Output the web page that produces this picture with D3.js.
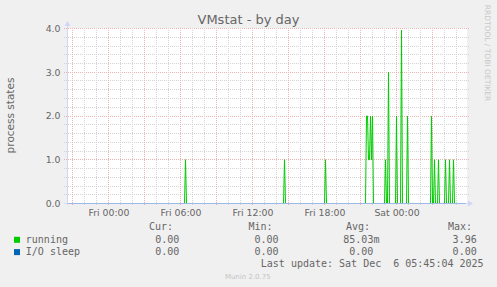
<!DOCTYPE html>
<html><head><meta charset="utf-8">
<script src="https://cdn.jsdelivr.net/npm/d3@7"></script>
<style>body{margin:0;background:#f0f0f0} svg{display:block}</style>
</head><body><svg id="c" width="497" height="287"></svg>
<script>
// ---------- data ----------
const chartTitle = "VMstat - by day";
const yAxisLabel = "process states";
const yTickValues = [0, 1, 2, 3, 4];
const xTickTimes = ["2025-12-05T00:00", "2025-12-05T06:00", "2025-12-05T12:00", "2025-12-05T18:00", "2025-12-06T00:00"];
const xTickLabels = ["Fri 00:00", "Fri 06:00", "Fri 12:00", "Fri 18:00", "Sat 00:00"];
const timeDomain = ["2025-12-04T20:35", "2025-12-06T05:55"];

const runningTimes = [
  "2025-12-04T20:35",
  "2025-12-05T06:20", "2025-12-05T06:25", "2025-12-05T06:30",
  "2025-12-05T14:35", "2025-12-05T14:40", "2025-12-05T14:45",
  "2025-12-05T18:00", "2025-12-05T18:05", "2025-12-05T18:10",
  "2025-12-05T21:25", "2025-12-05T21:30", "2025-12-05T21:35", "2025-12-05T21:40", "2025-12-05T21:45",
  "2025-12-05T21:50", "2025-12-05T21:55", "2025-12-05T22:00", "2025-12-05T22:05",
  "2025-12-05T23:00", "2025-12-05T23:05", "2025-12-05T23:10", "2025-12-05T23:15", "2025-12-05T23:20", "2025-12-05T23:25",
  "2025-12-05T23:55", "2025-12-06T00:00", "2025-12-06T00:05",
  "2025-12-06T00:20", "2025-12-06T00:25", "2025-12-06T00:30",
  "2025-12-06T00:50", "2025-12-06T00:55", "2025-12-06T01:00",
  "2025-12-06T02:50", "2025-12-06T02:55", "2025-12-06T03:00",
  "2025-12-06T03:05", "2025-12-06T03:10", "2025-12-06T03:15",
  "2025-12-06T03:25", "2025-12-06T03:30", "2025-12-06T03:35",
  "2025-12-06T04:00", "2025-12-06T04:05", "2025-12-06T04:10",
  "2025-12-06T04:20", "2025-12-06T04:25", "2025-12-06T04:30",
  "2025-12-06T04:40", "2025-12-06T04:45", "2025-12-06T04:50",
  "2025-12-06T05:45"
];
const runningValues = [
  0,
  0, 1, 0,
  0, 1, 0,
  0, 1, 0,
  0, 2, 2, 1, 1,
  2, 1, 2, 0,
  0, 1, 0, 0, 3, 0,
  0, 2, 0,
  0, 3.96, 0,
  0, 2, 0,
  0, 2, 0,
  0, 1, 0,
  0, 1, 0,
  0, 1, 0,
  0, 1, 0,
  0, 1, 0,
  0
];
const ioSleepTimes = ["2025-12-04T20:35", "2025-12-06T05:45"];
const ioSleepValues = [0, 0];

const legendNames = ["running", "I/O sleep"];
const legendHeaders = ["Cur:", "Min:", "Avg:", "Max:"];
const legendCur = ["0.00", "0.00"];
const legendMin = ["0.00", "0.00"];
const legendAvg = ["85.03m", "0.00"];
const legendMax = ["3.96", "0.00"];
const lastUpdateText = "Last update: Sat Dec  6 05:45:04 2025";
const versionText = "Munin 2.0.75";
const watermarkText = "RRDTOOL / TOBI OETIKER";

// ---------- drawing ----------
const parse = d3.utcParse("%Y-%m-%dT%H:%M");
const svg = d3.select("#c");
const FONT = "DejaVu Sans, sans-serif";
const MONO = "DejaVu Sans Mono, monospace";
const fontColor = "#666666";
const colors = ["#00cc00", "#0066b3"];
const majorColor = "#efb2b2";
const minorColor = "#d4d4d4";

const L = 67, R = 467, T = 28, B = 203;
const x = d3.scaleUtc().domain(timeDomain.map(parse)).range([L, R]);
const y = d3.scaleLinear().domain([0, 4]).range([B + 0.5, T + 0.5]);

svg.append("rect").attr("width", 497).attr("height", 287).attr("fill", "#f0f0f0");
svg.append("rect").attr("x", L).attr("y", T).attr("width", R - L).attr("height", B - T + 1).attr("fill", "#ffffff");

const grid = svg.append("g").attr("shape-rendering", "crispEdges");
// horizontal minor / major
const yMinor = d3.range(0, 4.0001, 0.2);
yMinor.forEach(v => {
  const major = Math.abs(v - Math.round(v)) < 1e-6;
  const yy = Math.round(y(v) - 0.5) + 0.5;
  if (Math.round(v) === 0 && major) return;
  grid.append("line").attr("x1", L - 3).attr("x2", R + 2).attr("y1", yy).attr("y2", yy)
    .attr("stroke", major ? majorColor : minorColor).attr("stroke-width", 1).attr("stroke-dasharray", "1,1");
});
// vertical hour lines
const hours = d3.utcHour.range(x.domain()[0], x.domain()[1]);
hours.forEach(h => {
  const major = h.getUTCHours() % 3 === 0;
  const xx = Math.round(x(h)) + 0.5;
  if (xx <= L + 1) return;
  grid.append("line").attr("x1", xx).attr("x2", xx).attr("y1", T).attr("y2", B + (major ? 3 : 2))
    .attr("stroke", major ? majorColor : minorColor).attr("stroke-width", 1).attr("stroke-dasharray", "1,1");
});

// data lines
const line = d3.line().x(d => x(d[0]) + 0.5).y(d => y(d[1]));
const runData = runningTimes.map((t, i) => [parse(t), runningValues[i]]);
const ioData = ioSleepTimes.map((t, i) => [parse(t), ioSleepValues[i]]);
svg.append("path").attr("d", line(runData)).attr("fill", "none").attr("stroke", colors[0]).attr("stroke-width", 1);
svg.append("path").attr("d", line(ioData)).attr("fill", "none").attr("stroke", colors[1]).attr("stroke-width", 1);

// axes
const axisColor = "#cfd6f8";
svg.append("line").attr("x1", L - 3).attr("x2", R + 2).attr("y1", B + 0.5).attr("y2", B + 0.5)
  .attr("stroke", axisColor).attr("stroke-opacity", 0.75).attr("shape-rendering", "crispEdges");
svg.append("line").attr("x1", L + 0.5).attr("x2", L + 0.5).attr("y1", B + 2).attr("y2", T - 3)
  .attr("stroke", axisColor).attr("shape-rendering", "crispEdges");
svg.append("path").attr("d", `M${L - 2.5},${T - 2}L${L + 3.5},${T - 2}L${L + 0.5},${T - 7}Z`).attr("fill", axisColor);
svg.append("path").attr("d", `M${R + 1},${B - 2.5}L${R + 1},${B + 3.5}L${R + 6},${B + 0.5}Z`).attr("fill", axisColor);

// y tick labels
svg.append("g").selectAll("text").data(yTickValues).join("text")
  .attr("x", 60.5).attr("y", d => y(d) + 3.3).attr("text-anchor", "end")
  .attr("font-family", FONT).attr("font-size", 9.33).attr("fill", fontColor)
  .text(d => d3.format(".1f")(d));
// x tick labels
svg.append("g").selectAll("text").data(xTickTimes).join("text")
  .attr("x", d => x(parse(d)) + 1).attr("y", 216).attr("text-anchor", "middle")
  .attr("font-family", FONT).attr("font-size", 9.33).attr("fill", fontColor)
  .text((d, i) => xTickLabels[i]);

// title
svg.append("text").attr("x", 248.5).attr("y", 24).attr("text-anchor", "middle")
  .attr("font-family", FONT).attr("font-size", 13).attr("fill", fontColor).text(chartTitle);
// y label
svg.append("text").attr("transform", "translate(14,115.5) rotate(-90)").attr("text-anchor", "middle")
  .attr("font-family", FONT).attr("font-size", 10.5).attr("fill", fontColor).text(yAxisLabel);
// watermark
svg.append("text").attr("transform", "translate(485,53) rotate(90)").attr("text-anchor", "middle")
  .attr("font-family", FONT).attr("font-size", 7.5).attr("fill", "#c8c8c8").text(watermarkText);

// legend
const keepSpaces = s => s.replace(/  /g, " \u00a0");
const lg = svg.append("g").attr("font-family", MONO).attr("font-size", 10).attr("fill", fontColor);
const headerX = [149, 248.5, 346, 448];
legendHeaders.forEach((h, i) => lg.append("text").attr("x", headerX[i]).attr("y", 230.3).text(h));
const rowY = [242.6, 254.9];
const colRight = [179.4, 278.6, 373.4, 476.7];
legendNames.forEach((n, i) => {
  svg.append("rect").attr("x", 14).attr("y", rowY[i] - 5.8).attr("width", 6).attr("height", 6).attr("fill", colors[i]);
  lg.append("text").attr("x", 25.8).attr("y", rowY[i]).text(n);
  const vals = [legendCur[i], legendMin[i], legendAvg[i], legendMax[i]];
  vals.forEach((v, j) => {
    const num = v.replace(/[a-zA-Z]$/, "");
    lg.append("text").attr("x", colRight[j] - num.length * 6.02).attr("y", rowY[i]).text(v);
  });
});
lg.append("text").attr("x", 260.8).attr("y", 267).text(keepSpaces(lastUpdateText));
svg.append("text").attr("x", 247.8).attr("y", 278.5).attr("text-anchor", "middle")
  .attr("font-family", FONT).attr("font-size", 7).attr("fill", "#c4c4c4").text(versionText);
</script>
</body></html>
